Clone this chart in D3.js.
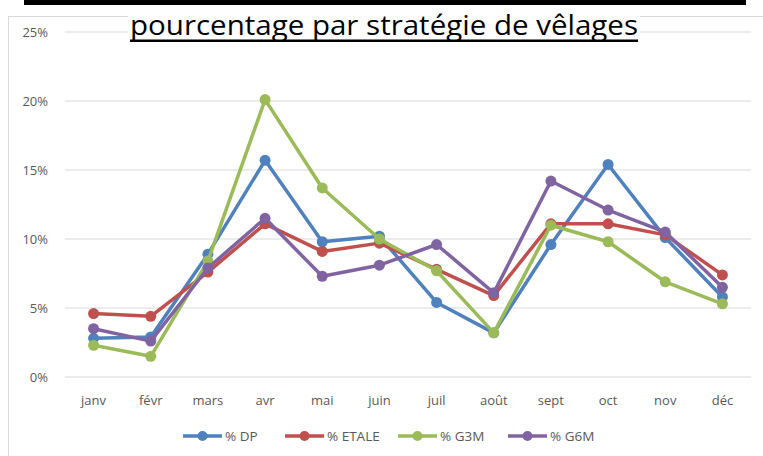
<!DOCTYPE html>
<html>
<head>
<meta charset="utf-8">
<script src="https://cdn.jsdelivr.net/npm/d3@7"></script>
<style>
body { margin: 0; background: #fff; }
svg { display: block; font-family: "Open Sans", "Liberation Sans", sans-serif; }
</style>
</head>
<body>
<script>
var w = 763, h = 456;
var months = ["janv", "févr", "mars", "avr", "mai", "juin", "juil", "août", "sept", "oct", "nov", "déc"];
var yTicks = [0, 5, 10, 15, 20, 25];
var seriesNames = ["% DP", "% ETALE", "% G3M", "% G6M"];
var colors = ["#4F81BD", "#C0504D", "#9BBB59", "#8064A2"];
var dp    = [2.8, 2.9, 8.9, 15.7, 9.8, 10.2, 5.4, 3.2, 9.6, 15.4, 10.1, 5.8];
var etale = [4.6, 4.4, 7.6, 11.1, 9.1, 9.7, 7.8, 5.9, 11.1, 11.1, 10.3, 7.4];
var g3m   = [2.3, 1.5, 8.4, 20.1, 13.7, 10.0, 7.7, 3.2, 11.0, 9.8, 6.9, 5.3];
var g6m   = [3.5, 2.6, 7.9, 11.5, 7.3, 8.1, 9.6, 6.1, 14.2, 12.1, 10.5, 6.5];
var allSeries = [dp, etale, g3m, g6m];

var svg = d3.select("body").append("svg").attr("width", w).attr("height", h);

// chart frame + black bar on top
svg.append("rect").attr("x", 8.5).attr("y", 16.5).attr("width", 770).attr("height", 460)
  .attr("fill", "#fff").attr("stroke", "#d9d9d9");
svg.append("rect").attr("x", 24).attr("y", 0).attr("width", 722).attr("height", 5).attr("fill", "#000");

var x = d3.scaleBand().domain(months).range([65, 751]);
var y = d3.scaleLinear().domain([0, 25]).range([377, 32]);

// gridlines
svg.selectAll(".grid").data(yTicks).enter().append("line")
  .attr("x1", 65).attr("x2", 751)
  .attr("y1", function(d) { return y(d); }).attr("y2", function(d) { return y(d); })
  .attr("stroke", "#d9d9d9").attr("stroke-width", 1);

// y labels
svg.selectAll(".ylab").data(yTicks).enter().append("text")
  .attr("x", 48).attr("y", function(d) { return y(d) + 4.5; })
  .attr("text-anchor", "end").attr("font-size", 13).attr("fill", "#595959")
  .text(function(d) { return d + "%"; });

// x labels
svg.selectAll(".xlab").data(months).enter().append("text")
  .attr("x", function(d) { return x(d) + x.bandwidth() / 2; }).attr("y", 405)
  .attr("text-anchor", "middle").attr("font-size", 13).attr("fill", "#595959")
  .text(function(d) { return d; });

var line = d3.line()
  .x(function(d, i) { return x(months[i]) + x.bandwidth() / 2; })
  .y(function(d) { return y(d); });

allSeries.forEach(function(s, k) {
  svg.append("path").datum(s).attr("d", line).attr("fill", "none")
    .attr("stroke", colors[k]).attr("stroke-width", 3.5).attr("stroke-linejoin", "round");
  svg.selectAll(".pt" + k).data(s).enter().append("circle")
    .attr("cx", function(d, i) { return x(months[i]) + x.bandwidth() / 2; })
    .attr("cy", function(d) { return y(d); })
    .attr("r", 5.5).attr("fill", colors[k]);
});

// title (the grid line runs right under it, so give it a white box)
svg.append("rect").attr("x", 128).attr("y", 12).attr("width", 512).attr("height", 33).attr("fill", "#fff");
svg.append("text").attr("x", 384).attr("y", 35).attr("text-anchor", "middle")
  .attr("font-size", 28).attr("fill", "#000")
  .attr("textLength", 508).attr("lengthAdjust", "spacingAndGlyphs")
  .text("pourcentage par stratégie de vêlages");
svg.append("rect").attr("x", 130).attr("y", 39.5).attr("width", 508).attr("height", 2.5).attr("fill", "#000");

// legend
var legX = [183, 285, 398, 508];
seriesNames.forEach(function(n, k) {
  var g = svg.append("g").attr("transform", "translate(" + legX[k] + ",436)");
  g.append("line").attr("x1", 0).attr("x2", 39).attr("stroke", colors[k]).attr("stroke-width", 3.5);
  g.append("circle").attr("cx", 19.5).attr("r", 5).attr("fill", colors[k]);
  g.append("text").attr("x", 42).attr("y", 4.5).attr("font-size", 13.5).attr("fill", "#595959").text(n);
});
</script>
</body>
</html>
